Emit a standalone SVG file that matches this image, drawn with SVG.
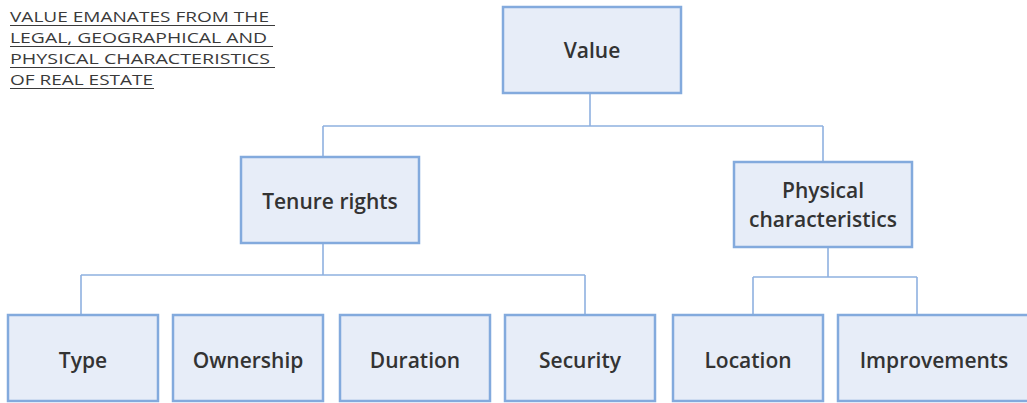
<svg xmlns="http://www.w3.org/2000/svg" width="1027" height="403" viewBox="0 0 1027 403">
  <style>
    .box { fill: #e7edf8; stroke: #83aadd; stroke-width: 2.5; }
    .lbl { font-family: "Open Sans", "Noto Sans", sans-serif; font-weight: 600; font-size: 21px; fill: #333333; text-anchor: middle; }
    .note { font-family: "Open Sans", "Noto Sans", sans-serif; font-size: 15.2px; fill: #3a3a3a; }
    .uline { stroke: #3a3a3a; stroke-width: 1.2; }
    .wire { fill: none; stroke: #8fb1e0; stroke-width: 1.6; }
  </style>
  <rect width="1027" height="403" fill="#ffffff"/>

  <!-- heading note, underlined -->
  <g id="note">
    <text class="note" x="10" y="22" textLength="259" lengthAdjust="spacingAndGlyphs">VALUE EMANATES FROM THE</text>
    <text class="note" x="10" y="43" textLength="257" lengthAdjust="spacingAndGlyphs">LEGAL, GEOGRAPHICAL AND</text>
    <text class="note" x="10" y="64" textLength="260" lengthAdjust="spacingAndGlyphs">PHYSICAL CHARACTERISTICS</text>
    <text class="note" x="10" y="85" textLength="143" lengthAdjust="spacingAndGlyphs">OF REAL ESTATE</text>
    <line class="uline" x1="10" y1="25.5" x2="275" y2="25.5"/>
    <line class="uline" x1="10" y1="46.5" x2="273" y2="46.5"/>
    <line class="uline" x1="10" y1="67.5" x2="275" y2="67.5"/>
    <line class="uline" x1="10" y1="88.5" x2="154" y2="88.5"/>
  </g>

  <!-- tree connectors -->
  <g id="connectors">
    <path class="wire" d="M590,93 V126 M323,126 H823 M323,126 V157 M823,126 V162"/>
    <path class="wire" d="M323,243 V275 M81,275 H585 M81,275 V315 M585,275 V315"/>
    <path class="wire" d="M828,247 V277 M753,277 H917 M753,277 V315 M917,277 V315"/>
  </g>

  <g id="value">
    <rect class="box" x="503" y="7" width="178" height="86"/>
    <text class="lbl" x="592" y="58">Value</text>
  </g>

  <g id="tenure-rights">
    <rect class="box" x="241" y="157" width="178" height="86"/>
    <text class="lbl" x="330" y="209">Tenure rights</text>
  </g>

  <g id="physical-characteristics">
    <rect class="box" x="734" y="162" width="178" height="85"/>
    <text class="lbl" x="823" y="198">Physical</text>
    <text class="lbl" x="823" y="227">characteristics</text>
  </g>

  <g id="type">
    <rect class="box" x="8" y="315" width="150" height="86"/>
    <text class="lbl" x="83" y="368">Type</text>
  </g>

  <g id="ownership">
    <rect class="box" x="173" y="315" width="150" height="86"/>
    <text class="lbl" x="248" y="368">Ownership</text>
  </g>

  <g id="duration">
    <rect class="box" x="340" y="315" width="150" height="86"/>
    <text class="lbl" x="415" y="368">Duration</text>
  </g>

  <g id="security">
    <rect class="box" x="505" y="315" width="150" height="86"/>
    <text class="lbl" x="580" y="368">Security</text>
  </g>

  <g id="location">
    <rect class="box" x="673" y="315" width="150" height="86"/>
    <text class="lbl" x="748" y="368">Location</text>
  </g>

  <g id="improvements">
    <rect class="box" x="838" y="315" width="200" height="86"/>
    <text class="lbl" x="934" y="368">Improvements</text>
  </g>
</svg>
